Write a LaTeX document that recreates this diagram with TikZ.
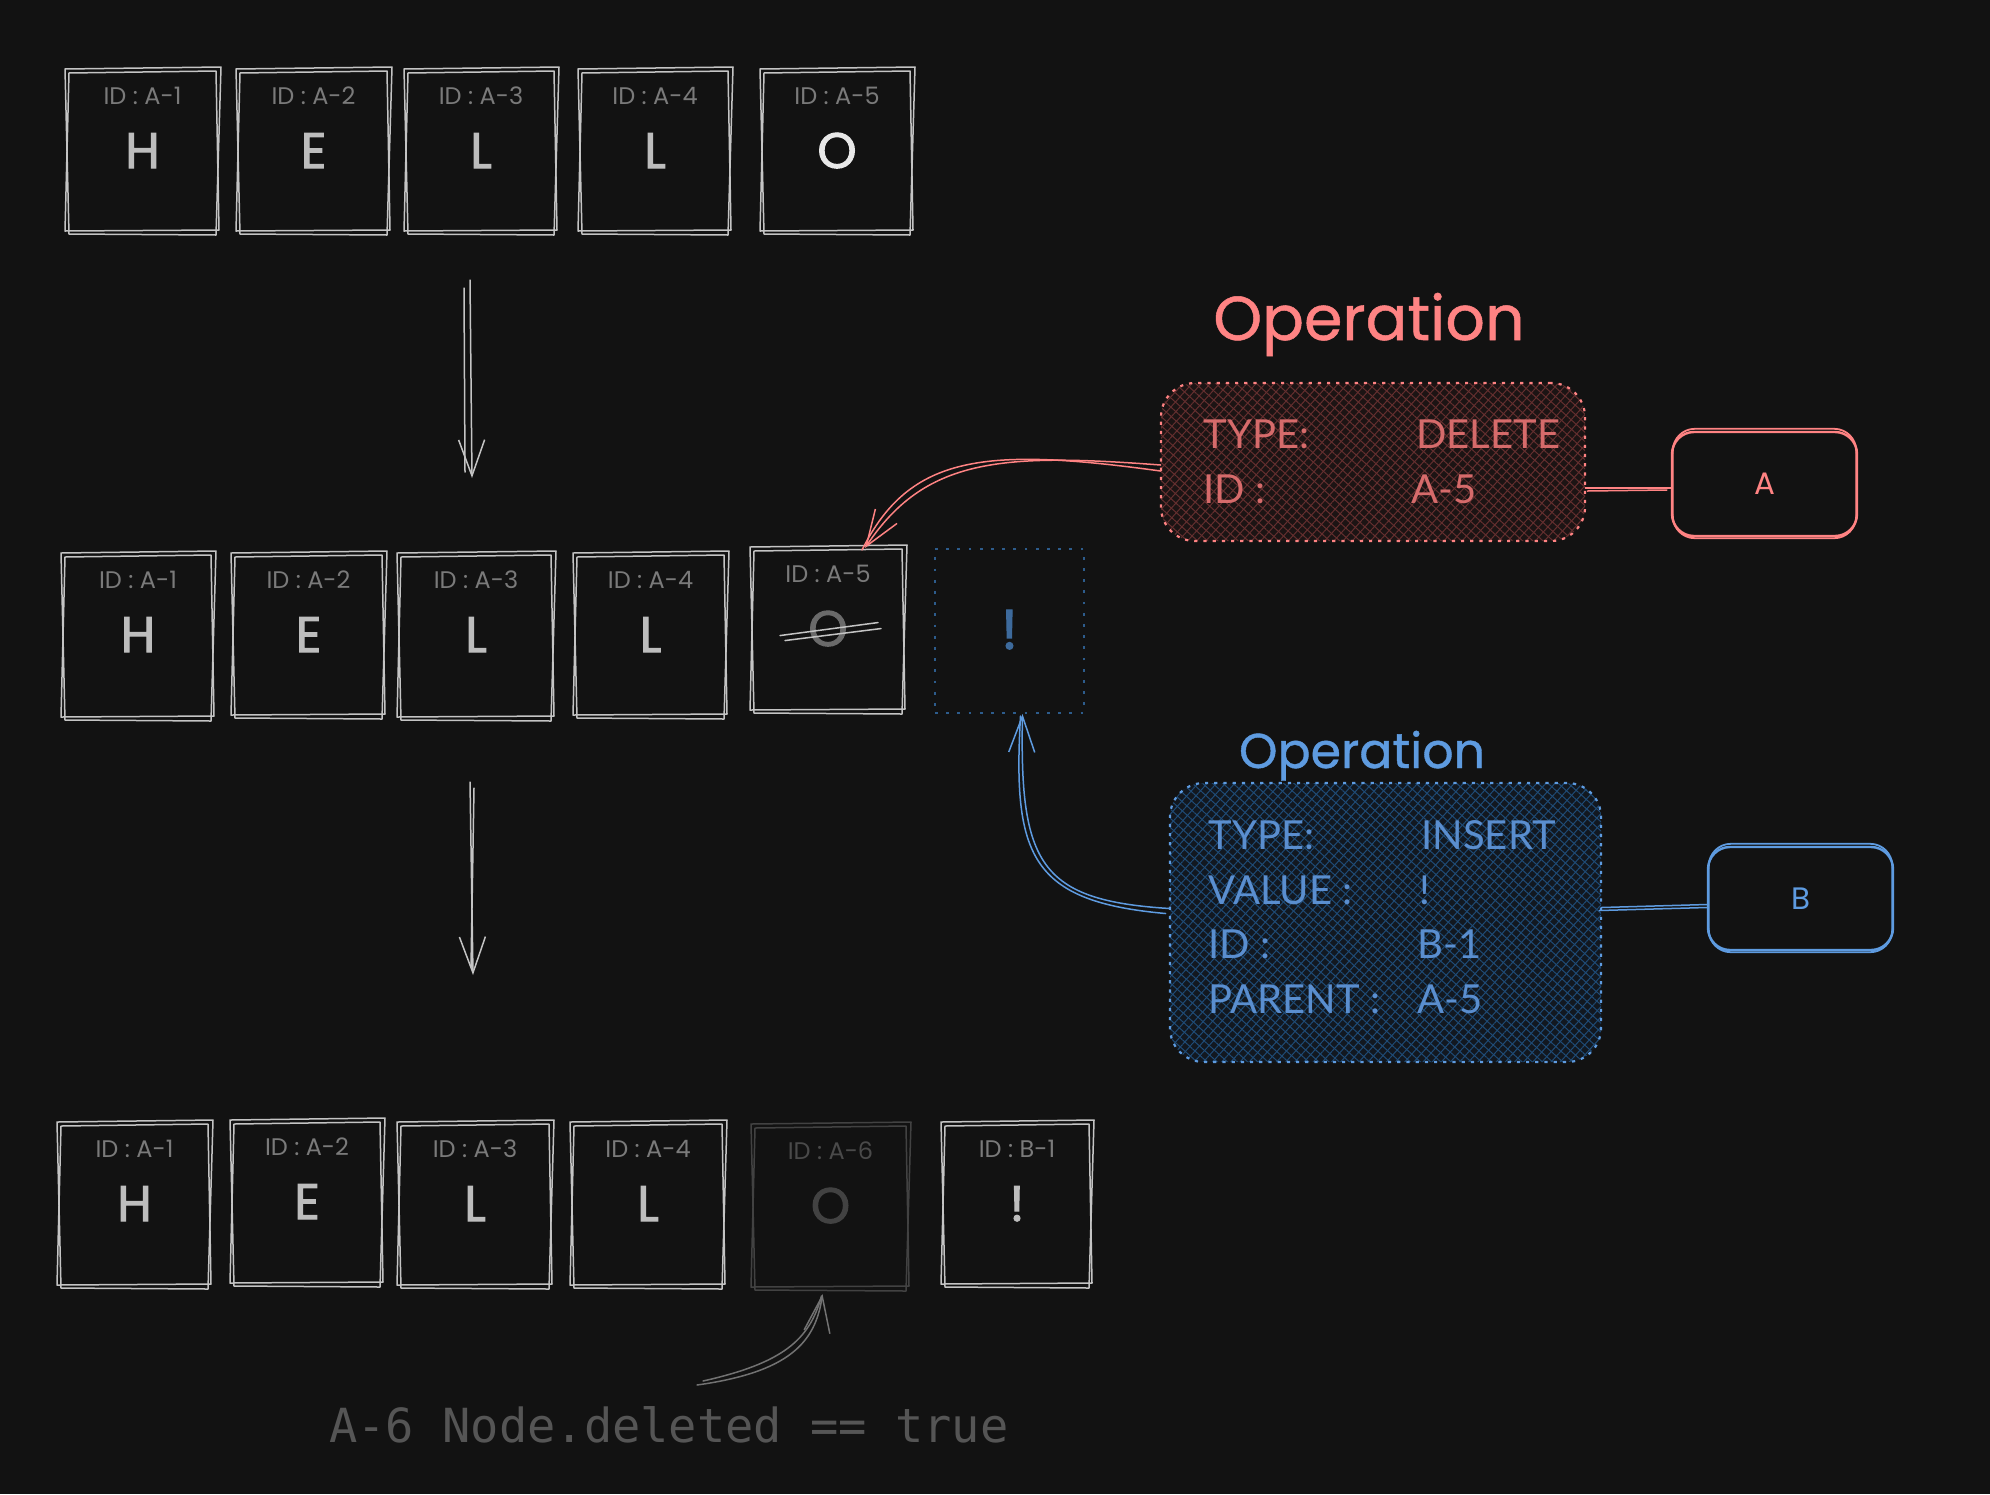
\documentclass[tikz,border=0pt]{standalone}
\usepackage{fontspec}
\setmainfont{Lato}
\newfontfamily\hand{Poppins}
\newfontfamily\handb{Poppins}[FakeBold=2]
\newfontfamily\handm{Poppins}[FakeBold=0.8]
\newfontfamily\monof{DejaVu Sans Mono}
\usetikzlibrary{arrows.meta,patterns.meta,fit,calc}
\definecolor{bg}{HTML}{121212}
\definecolor{boxln}{HTML}{C4C4C4}
\definecolor{idtxt}{HTML}{7A7A7A}
\definecolor{lettr}{HTML}{BDBDBD}
\definecolor{lettrw}{HTML}{E8E8E8}
\definecolor{dimln}{HTML}{424242}
\definecolor{dimtxt}{HTML}{4A4A4A}
\definecolor{dimo}{HTML}{6A6A6A}
\definecolor{opred}{HTML}{FF8383}
\definecolor{redtxt}{HTML}{D66B6B}
\definecolor{redhatch}{HTML}{642F2F}
\definecolor{redbase}{HTML}{1C1414}
\definecolor{opblue}{HTML}{5E9BE0}
\definecolor{bluetxt}{HTML}{5A8ECF}
\definecolor{bluehatch}{HTML}{1F4B76}
\definecolor{bluebase}{HTML}{121820}
\definecolor{bluedot}{HTML}{2D5C8C}
\definecolor{excl}{HTML}{3D6A9C}
\definecolor{arrgray}{HTML}{727272}
\definecolor{notetxt}{HTML}{555555}
\tikzset{
  sk/.style={line width=0.75pt, line cap=round, line join=round},
  idlab/.style={anchor=base, inner sep=0pt, text=idtxt, font={\hand\fontsize{12}{14}\selectfont}},
  letr/.style={anchor=base, inner sep=0pt, text=lettr, font={\handb\fontsize{25}{30}\selectfont}},
  letrw/.style={letr, text=lettrw},
  letrdim/.style={letr, text=dimo},
  letrdark/.style={letr, text=dimln},
  optitle/.style={anchor=base, inner sep=0pt, font={\handm\fontsize{31}{36}\selectfont}},
  optext/.style={anchor=base west, inner sep=0pt, font={\fontsize{20}{24}\selectfont}},
  barb/.tip={Straight Barb[length=18pt,width=13pt]},
  redop/.style={inner sep=0pt, rounded corners=17pt, fill=redbase,
    postaction={pattern={Lines[angle=48,distance=3.4pt,line width=0.5pt]}, pattern color=redhatch},
    postaction={pattern={Lines[angle=-42,distance=3.4pt,line width=0.5pt]}, pattern color=redhatch},
    postaction={draw=opred, line width=1.1pt, dash pattern=on 1.6pt off 3pt}},
  blueop/.style={inner sep=0pt, rounded corners=17pt, fill=bluebase,
    postaction={pattern={Lines[angle=48,distance=3.4pt,line width=0.5pt]}, pattern color=bluehatch},
    postaction={pattern={Lines[angle=-42,distance=3.4pt,line width=0.5pt]}, pattern color=bluehatch},
    postaction={draw=opblue, line width=1.1pt, dash pattern=on 1.6pt off 3pt}},
  userbox/.style={inner sep=0pt, rounded corners=11pt, line width=1.2pt},
}
\newcommand\skbox[6][boxln]{%
  \node[fit={(#3,#4) (#5,#6)}, inner sep=0pt, outer sep=0pt] (#2) {};
  \draw[sk, #1] ([shift={(-3,-1)}]#2.north west) -- ([shift={(4,-3)}]#2.north east)
     -- ([shift={(-1,3)}]#2.south east) -- ([shift={(1,2)}]#2.south west) -- cycle;
  \draw[sk, #1] ([shift={(1,3)}]#2.north west) -- ([shift={(-1,1)}]#2.north east)
     -- ([shift={(2,-2)}]#2.south east) -- ([shift={(-3,-1)}]#2.south west) -- cycle;
}
\newcommand\cellbox[8]{%
  \skbox{#1}{#2}{#3}{#4}{#5}
  \node[idlab] (#1-id) at ([shift={(0,34)}]#1.north) {#6};
  \node[#8] (#1-ch) at ([shift={(0,98)}]#1.north) {#7};
}
\begin{document}
\begin{tikzpicture}[x=0.5pt, y=-0.5pt]
\useasboundingbox (0,0) rectangle (1990,1494);
\fill[bg] (0,0) rectangle (1990,1494);

% row 1
\cellbox{ra}{68}{70}{217}{232}{ID : A-1}{H}{letr}
\cellbox{rb}{239}{70}{388}{232}{ID : A-2}{E}{letr}
\cellbox{rc}{407}{70}{555}{232}{ID : A-3}{L}{letr}
\cellbox{rd}{581}{70}{729}{232}{ID : A-4}{L}{letr}
\cellbox{re}{763}{70}{911}{232}{ID : A-5}{O}{letrw}

% row 2
\cellbox{sa}{64}{554}{212}{718}{ID : A-1}{H}{letr}
\cellbox{sb}{234}{554}{383}{716}{ID : A-2}{E}{letr}
\cellbox{sc}{400}{554}{552}{718}{ID : A-3}{L}{letr}
\cellbox{sd}{576}{554}{725}{716}{ID : A-4}{L}{letr}
\skbox{se}{753}{548}{903}{711}
\node[idlab] (se-id) at ([shift={(0,34)}]se.north) {ID : A-5};
\node[letrdim] (se-ch) at ([shift={(0,98)}]se.north) {O};
\draw[sk, boxln] ([shift={(-48,7)}]se-ch.center) -- ([shift={(50,-6)}]se-ch.center);
\draw[sk, boxln] ([shift={(-43,12)}]se-ch.center) -- ([shift={(53,0)}]se-ch.center);
\node[fit={(935,549) (1084,713)}, inner sep=0pt, draw=bluedot, line width=1pt, dash pattern=on 1.4pt off 4.2pt] (dotbox) {};
\node[letr, text=excl, font={\handb\fontsize{28}{32}\selectfont}] (dot-ch) at ([shift={(0,101)}]dotbox.north) {!};

% row 3
\cellbox{ta}{60}{1123}{209}{1286}{ID : A-1}{H}{letr}
\cellbox{tb}{233}{1121}{381}{1284}{ID : A-2}{E}{letr}
\cellbox{tc}{400}{1123}{550}{1286}{ID : A-3}{L}{letr}
\cellbox{td}{573}{1123}{723}{1286}{ID : A-4}{L}{letr}
\skbox[dimln]{te}{754}{1125}{907}{1288}
\node[idlab, text=dimtxt] (te-id) at ([shift={(0,34)}]te.north) {ID : A-6};
\node[letrdark] (te-ch) at ([shift={(0,98)}]te.north) {O};
\cellbox{tf}{944}{1123}{1090}{1285}{ID : B-1}{!}{letr}

% down arrows
\coordinate (d1s) at (470,280);
\coordinate (d1e) at (472,478);
\draw[sk, boxln, -barb] (d1s) -- (d1e);
\draw[sk, boxln] ([shift={(-6,8)}]d1s) -- ([shift={(-7,-6)}]d1e);
\coordinate (d2s) at (470,782);
\coordinate (d2e) at (473,975);
\draw[sk, boxln, -barb] (d2s) -- (d2e);
\draw[sk, boxln] ([shift={(4,6)}]d2s) -- ([shift={(-2,-8)}]d2e);

% delete operation
\node[optitle, text=opred] (deltitle) at (1369,340) {Operation};
\node[redop, minimum width=212pt, minimum height=79pt] (del) at (1373,462) {};
\node[optext, text=redtxt] (del-t1) at (1203,448) {TYPE:};
\node[optext, text=redtxt] (del-v1) at (1416,448) {DELETE};
\node[optext, text=redtxt] (del-t2) at (1203,503) {ID :};
\node[optext, text=redtxt] (del-v2) at (1411,503) {A-5};
\node[userbox, draw=opred, minimum width=92.5pt, minimum height=52pt] (abox) at (1764.5,484) {};
\draw[opred, line width=0.9pt, rounded corners=11pt] ([shift={(2,-2)}]abox.north west) rectangle ([shift={(-2,1)}]abox.south east);
\node[anchor=center, inner sep=0pt, text=opred, font={\hand\fontsize{15.5}{18}\selectfont}] (a-ch) at (abox.center) {A};
\draw[sk, opred] ([shift={(0,26)}]del.east) -- ([shift={(0,4)}]abox.west);
\draw[sk, opred] ([shift={(2,29)}]del.east) -- ([shift={(-4,6)}]abox.west);
\draw[sk, opred, -barb] ([shift={(0,3)}]del.west) .. controls +(-160,-12) and +(60,-90) .. ([shift={(37,0)}]se.north);
\draw[sk, opred] ([shift={(0,9)}]del.west) .. controls +(-175,-24) and +(48,-96) .. ([shift={(34,2)}]se.north);

% insert operation
\node[optitle, text=opblue, font={\handm\fontsize{24.5}{28}\selectfont}] (institle) at (1362,768) {Operation};
\node[blueop, minimum width=215.5pt, minimum height=139.5pt] (ins) at (1385.5,922.5) {};
\node[optext, text=bluetxt] (ins-t1) at (1208,849) {TYPE:};
\node[optext, text=bluetxt] (ins-v1) at (1421,849) {INSERT};
\node[optext, text=bluetxt] (ins-t2) at (1208,904) {VALUE :};
\node[optext, text=bluetxt] (ins-v2) at (1419,904) {!};
\node[optext, text=bluetxt] (ins-t3) at (1208,958) {ID :};
\node[optext, text=bluetxt] (ins-v3) at (1417,958) {B-1};
\node[optext, text=bluetxt] (ins-t4) at (1208,1013) {PARENT :};
\node[optext, text=bluetxt] (ins-v4) at (1417,1013) {A-5};
\node[userbox, draw=opblue, minimum width=92.5pt, minimum height=51.5pt] (bbox) at (1800.5,898.5) {};
\draw[opblue, line width=0.9pt, rounded corners=11pt] ([shift={(2,-2)}]bbox.north west) rectangle ([shift={(-2,1)}]bbox.south east);
\node[anchor=center, inner sep=0pt, text=opblue, font={\hand\fontsize{15.5}{18}\selectfont}] (b-ch) at (bbox.center) {B};
\draw[sk, opblue] ([shift={(0,-15)}]ins.east) -- ([shift={(0,6)}]bbox.west);
\draw[sk, opblue] ([shift={(-2,-12)}]ins.east) -- ([shift={(0,9)}]bbox.west);
\draw[sk, opblue, -barb] ([shift={(0,-14)}]ins.west) .. controls +(-130,-8) and +(-3,150) .. ([shift={(13,0)}]dotbox.south);
\draw[sk, opblue] ([shift={(-4,-9)}]ins.west) .. controls +(-135,-12) and +(-8,140) .. ([shift={(11,2)}]dotbox.south);

% note
\node[anchor=base west, inner sep=0pt, text=notetxt, font={\monof\fontsize{23.5}{28}\selectfont}] (note) at (329,1442) {A-6 Node.deleted == true};
\coordinate (notearr) at (697,1385);
\draw[sk, arrgray, -barb] (notearr) .. controls +(93,-13) and +(-7,48) .. ([shift={(-8,6)}]te.south);
\draw[sk, arrgray] ([shift={(6,-4)}]notearr) .. controls +(80,-18) and +(-12,44) .. ([shift={(-9,8)}]te.south);
\end{tikzpicture}
\end{document}
